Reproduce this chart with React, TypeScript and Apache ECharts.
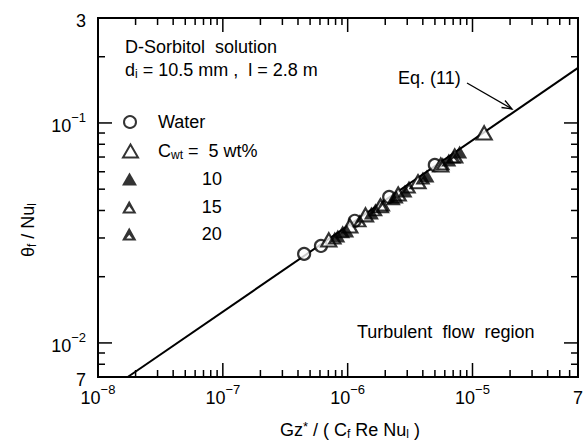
import React, { useEffect, useRef } from 'react';
import * as echarts from 'echarts';

// ---- Data ----
const waterX = [4.48e-7, 6.11e-7, 1.14e-6, 2.15e-6, 4.99e-6];
const waterY = [0.0254, 0.0276, 0.0359, 0.0461, 0.0644];

const c5X = [7.06e-7, 1.04e-6, 1.39e-6, 1.83e-6, 2.54e-6, 3.66e-6, 5.57e-6, 7.2e-6, 1.24e-5];
const c5Y = [0.0294, 0.034, 0.0382, 0.042, 0.0475, 0.054, 0.0644, 0.0708, 0.0901];

const c10X = [8.34e-7, 9.82e-7, 1.55e-6, 2.32e-6, 2.88e-6, 4.32e-6, 6.46e-6, 7.89e-6];
const c10Y = [0.0306, 0.0323, 0.039, 0.0452, 0.0491, 0.0574, 0.0679, 0.0738];

const c15X = [7.89e-7, 1.25e-6, 1.93e-6, 3.1e-6, 5.78e-6];
const c15Y = [0.03, 0.0359, 0.0424, 0.0512, 0.0652];

const c20X = [9.12e-7, 1.67e-6, 2.45e-6, 4.01e-6, 7.06e-6];
const c20Y = [0.032, 0.0403, 0.0461, 0.0562, 0.07];

// Eq. (11) line end points
const eqX = [1.73e-8, 7e-5];
const eqY = [0.007, 0.178];

// Axis ranges and tick values
const xMin = 1e-8;
const xMax = 7e-5;
const yMin = 7e-3;
const yMax = 0.3;
const xMajorTicks = [1e-8, 1e-7, 1e-6, 1e-5];
const xMinorTicks = [
  2e-8, 3e-8, 4e-8, 5e-8, 6e-8, 7e-8, 8e-8, 9e-8,
  2e-7, 3e-7, 4e-7, 5e-7, 6e-7, 7e-7, 8e-7, 9e-7,
  2e-6, 3e-6, 4e-6, 5e-6, 6e-6, 7e-6, 8e-6, 9e-6,
  2e-5, 3e-5, 4e-5, 5e-5, 6e-5,
];
const yMajorTicks = [1e-2, 1e-1];
const yMinorTicks = [
  8e-3, 9e-3,
  2e-2, 3e-2, 4e-2, 5e-2, 6e-2, 7e-2, 8e-2, 9e-2,
  2e-1,
];

const seriesNames = ['Water', 'C_wt = 5 wt%', '10', '15', '20'];

const FONT = '"Liberation Sans", Arial, Helvetica, sans-serif';

const TRI15 = 'path://M0,-10L10,8L-10,8Z M0,-2L-5.2,5.4L5.2,5.4Z';
const TRI20 = 'path://M0,-10L10,8L-10,8Z M0,0L-4,5.4L4,5.4Z';

const pairs = (xs: number[], ys: number[]) => xs.map((x, i) => [x, ys[i]]);

function tickLabel(value: number): string {
  const l = Math.log10(value);
  const r = Math.round(l);
  if (Math.abs(l - r) < 1e-6) {
    return '{b|10}{sup|' + (r < 0 ? '\u2212' + Math.abs(r) : String(r)) + '}';
  }
  const m = Math.round(value / Math.pow(10, Math.floor(l + 1e-9)));
  return '{b|' + m + '}';
}

const labelRich = {
  b: { fontSize: 18, lineHeight: 24, verticalAlign: 'bottom', fontFamily: FONT, color: '#000' },
  sup: { fontSize: 13, lineHeight: 10, verticalAlign: 'top', fontFamily: FONT, color: '#000' },
};

const textRich = {
  n: { fontSize: 18, lineHeight: 20, verticalAlign: 'middle', fontFamily: FONT, color: '#000' },
  sub: { fontSize: 12, lineHeight: 11, verticalAlign: 'bottom', fontFamily: FONT, color: '#000' },
  sup: { fontSize: 13, lineHeight: 11, verticalAlign: 'top', fontFamily: FONT, color: '#000' },
};

function makeLegend(name: string, top: number, left: number, iw: number, ih: number, padLeft: number, formatter?: string) {
  return {
    data: [name],
    left,
    top,
    padding: 0,
    itemWidth: iw,
    itemHeight: ih,
    selectedMode: false,
    orient: 'horizontal',
    formatter: formatter || '{n|' + name + '}',
    textStyle: {
      fontFamily: FONT,
      fontSize: 18,
      color: '#000',
      lineHeight: 22,
      padding: [0, 0, 0, padLeft],
      rich: textRich,
    },
  };
}

export default function App() {
  const ref = useRef<HTMLDivElement>(null);

  useEffect(() => {
    if (!ref.current) return;
    const chart = echarts.init(ref.current, undefined, { renderer: 'svg' });

    const tickData: number[][] = [];
    xMajorTicks.forEach((v) => tickData.push([v, yMin, 0, 1]));
    xMinorTicks.forEach((v) => tickData.push([v, yMin, 0, 0]));
    yMajorTicks.forEach((v) => tickData.push([xMin, v, 1, 1]));
    yMinorTicks.forEach((v) => tickData.push([xMin, v, 1, 0]));

    const option: any = {
      animation: false,
      backgroundColor: '#fff',
      grid: {
        left: 98,
        right: 4,
        top: 18,
        bottom: 70,
        show: true,
        borderColor: '#000',
        borderWidth: 2,
        backgroundColor: 'transparent',
      },
      xAxis: {
        type: 'log',
        logBase: 10,
        min: xMin,
        max: xMax,
        axisLine: { show: false },
        axisTick: { show: false },
        splitLine: { show: false },
        axisLabel: {
          margin: 6,
          formatter: tickLabel,
          rich: labelRich,
          showMinLabel: true,
          showMaxLabel: true,
        },
      },
      yAxis: {
        type: 'log',
        logBase: 10,
        min: yMin,
        max: yMax,
        axisLine: { show: false },
        axisTick: { show: false },
        splitLine: { show: false },
        axisLabel: {
          margin: 12,
          formatter: tickLabel,
          rich: labelRich,
          showMinLabel: true,
          showMaxLabel: true,
        },
      },
      legend: [
        makeLegend(seriesNames[0], 112, 123, 12, 12, 17),
        makeLegend(seriesNames[1], 141, 122, 15, 13, 15),
        makeLegend(seriesNames[2], 169, 122, 15, 13, 60),
        makeLegend(seriesNames[3], 197, 122, 15, 13, 60),
        makeLegend(seriesNames[4], 224, 122, 15, 13, 60),
      ].map((l, i) => (i === 1 ? { ...l, formatter: '{n|C}{sub|wt}{n| =  5 wt%}' } : l)),
      graphic: [
        {
          type: 'text',
          left: 125,
          top: 38,
          style: { text: 'D-Sorbitol  solution', font: '18px ' + FONT, fill: '#000' },
        },
        {
          type: 'text',
          x: 125,
          y: 70,
          style: {
            text: '{n|d}{sub|i}{n| = 10.5 mm ,  l = 2.8 m}',
            rich: textRich,
            verticalAlign: 'middle',
            align: 'left',
          },
        },
        {
          type: 'text',
          x: 398,
          y: 78,
          style: { text: 'Eq. (11)', font: '18px ' + FONT, fill: '#000', verticalAlign: 'middle' },
        },
        {
          type: 'line',
          shape: { x1: 467, y1: 83, x2: 512, y2: 109 },
          style: { stroke: '#000', lineWidth: 1.3 },
        },
        {
          type: 'polyline',
          shape: { points: [[501.5, 107.5], [512, 109], [505, 100.5]] },
          style: { stroke: '#000', lineWidth: 1.3, fill: 'none' },
        },
        {
          type: 'text',
          x: 357,
          y: 332,
          style: { text: 'Turbulent  flow  region', font: '18px ' + FONT, fill: '#000', verticalAlign: 'middle' },
        },
        {
          type: 'text',
          x: 350,
          y: 430,
          style: {
            text: '{n|Gz}{sup|*}{n| / ( C}{sub|f}{n| Re Nu}{sub|l}{n| )}',
            rich: textRich,
            align: 'center',
            verticalAlign: 'middle',
          },
        },
        {
          type: 'text',
          x: 28,
          y: 230,
          rotation: Math.PI / 2,
          style: {
            text: '{n|\u03b8}{sub|f}{n| / Nu}{sub|l}',
            rich: textRich,
            align: 'center',
            verticalAlign: 'middle',
          },
        },
      ],
      series: [
        {
          type: 'line',
          name: 'Eq. (11)',
          data: pairs(eqX, eqY),
          showSymbol: false,
          symbol: 'none',
          lineStyle: { color: '#000', width: 2 },
          z: 1,
          silent: true,
        },
        {
          type: 'custom',
          name: 'ticks',
          data: tickData,
          clip: false,
          silent: true,
          z: 5,
          renderItem: (params: any, api: any) => {
            const cs = params.coordSys;
            const kind = api.value(2);
            const major = api.value(3);
            const len = major ? 14 : 7;
            const p = api.coord([api.value(0), api.value(1)]);
            const style = { stroke: '#000', lineWidth: 1.5 };
            if (kind === 0) {
              const x = p[0];
              const b = cs.y + cs.height;
              return {
                type: 'group',
                children: [
                  { type: 'line', shape: { x1: x, y1: b, x2: x, y2: b - len }, style },
                  { type: 'line', shape: { x1: x, y1: cs.y, x2: x, y2: cs.y + len }, style },
                ],
              };
            }
            const y = p[1];
            const r = cs.x + cs.width;
            return {
              type: 'group',
              children: [
                { type: 'line', shape: { x1: cs.x, y1: y, x2: cs.x + len, y2: y }, style },
                { type: 'line', shape: { x1: r, y1: y, x2: r - len, y2: y }, style },
              ],
            };
          },
        },
        {
          type: 'scatter',
          name: seriesNames[0],
          data: pairs(waterX, waterY),
          symbol: 'circle',
          symbolSize: 12,
          itemStyle: { color: '#fff', borderColor: '#000', borderWidth: 2.2 },
          z: 3,
        },
        {
          type: 'scatter',
          name: seriesNames[1],
          data: pairs(c5X, c5Y),
          symbol: 'triangle',
          symbolSize: [15, 13],
          itemStyle: { color: '#fff', borderColor: '#000', borderWidth: 2.2 },
          z: 3,
        },
        {
          type: 'scatter',
          name: seriesNames[2],
          data: pairs(c10X, c10Y),
          symbol: 'triangle',
          symbolSize: [15, 13],
          itemStyle: { color: '#000', borderColor: '#000', borderWidth: 0 },
          z: 3,
        },
        {
          type: 'scatter',
          name: seriesNames[3],
          data: pairs(c15X, c15Y),
          symbol: TRI15,
          symbolSize: [15, 13],
          itemStyle: { color: '#000', borderWidth: 0 },
          z: 3,
        },
        {
          type: 'scatter',
          name: seriesNames[4],
          data: pairs(c20X, c20Y),
          symbol: TRI20,
          symbolSize: [15, 13],
          itemStyle: { color: '#000', borderWidth: 0 },
          z: 3,
        },
      ],
    };

    chart.setOption(option);
    return () => {
      chart.dispose();
    };
  }, []);

  return (
    <div
      ref={ref}
      style={{ position: 'absolute', left: 0, top: 0, width: 586, height: 447, background: '#fff' }}
    />
  );
}
